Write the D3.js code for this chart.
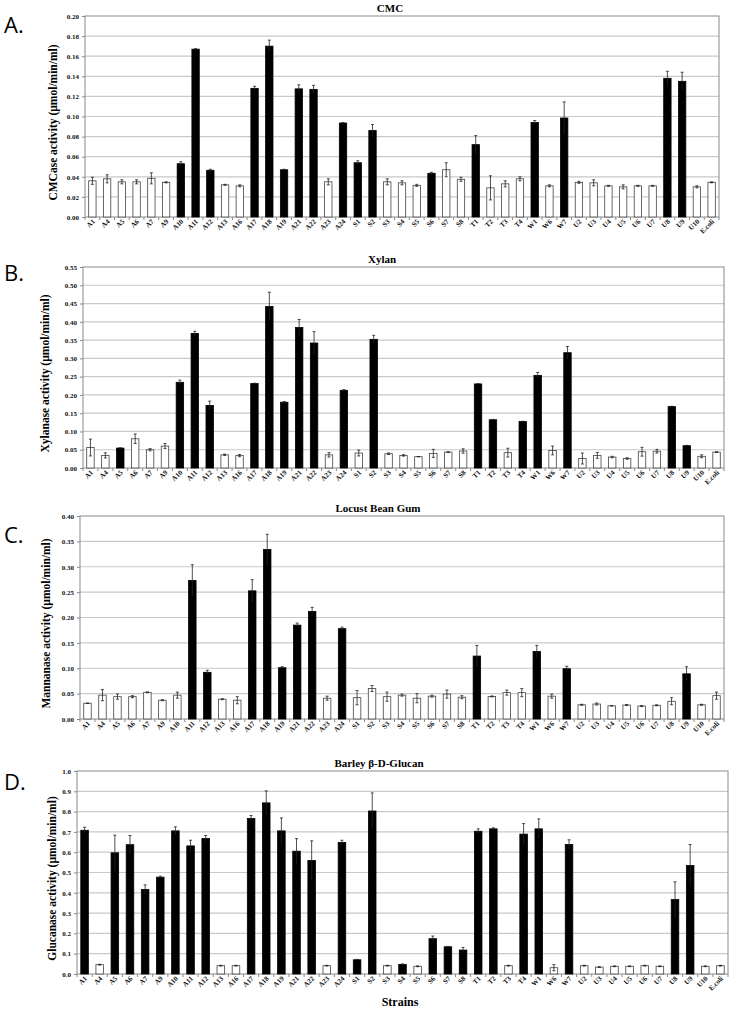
<!DOCTYPE html>
<meta charset="utf-8">
<style>
body { margin: 0; background: #fff; }
text { font-family: "Liberation Serif", "Times New Roman", serif; font-weight: bold; }
.letter { font-family: "Open Sans", "DejaVu Sans", sans-serif; font-weight: normal; font-size: 22px; }
.domain { display: none; }
</style>
<body>
<script src="https://d3js.org/d3.v7.min.js"></script>
<script>
var strains = ["A1","A4","A5","A6","A7","A9","A10","A11","A12","A13","A16","A17","A18","A19","A21","A22","A23","A24","S1",
  "S2","S3","S4","S5","S6","S7","S8","T1","T2","T3","T4","W1","W6","W7","U2","U3","U4","U5","U6","U7","U8","U9","U10","E.coli"];

// CMC
var cmcMean = [0.036,0.038,0.035,0.035,0.0385,0.0345,0.053,0.167,0.0465,0.032,0.031,0.128,0.170,0.047,0.1275,0.127,0.035,0.0935,0.054,
  0.086,0.035,0.034,0.0315,0.0435,0.047,0.0375,0.072,0.029,0.033,0.038,0.094,0.031,0.0985,0.0345,0.034,0.031,0.030,0.031,0.031,0.138,0.135,0.030,0.0345];
var cmcErr = [0.0035,0.004,0.002,0.002,0.0055,0.0005,0.002,0.0005,0.001,0.0005,0.001,0.002,0.006,0.0005,0.004,0.004,0.003,0.0005,0.002,
  0.006,0.003,0.002,0.001,0.001,0.007,0.002,0.009,0.012,0.003,0.002,0.002,0.001,0.016,0.001,0.003,0.0005,0.002,0.0005,0.0005,0.007,0.009,0.001,0.0005];
var cmcBlack = ["A10","A11","A12","A17","A18","A19","A21","A22","A24","S1","S2","S6","T1","W1","W7","U8","U9"];

// Xylan
var xylMean = [0.056,0.0345,0.0545,0.080,0.050,0.060,0.2345,0.368,0.171,0.036,0.034,0.231,0.442,0.180,0.3845,0.342,0.036,0.2125,0.041,
  0.352,0.039,0.0345,0.031,0.040,0.0435,0.0465,0.230,0.132,0.042,0.127,0.2535,0.048,0.3155,0.026,0.0345,0.030,0.026,0.0445,0.046,0.168,0.061,0.032,0.0435];
var xylErr = [0.023,0.007,0.001,0.013,0.003,0.007,0.006,0.006,0.012,0.002,0.003,0.001,0.039,0.002,0.022,0.031,0.006,0.002,0.008,
  0.011,0.002,0.002,0.0005,0.011,0.001,0.006,0.001,0.001,0.012,0.001,0.008,0.012,0.017,0.015,0.008,0.002,0.002,0.012,0.005,0.001,0.001,0.004,0.001];
var xylBlack = ["A5","A10","A11","A12","A17","A18","A19","A21","A22","A24","S2","T1","T2","T4","W1","W7","U8","U9"];

// Locust Bean Gum
var lbgMean = [0.031,0.047,0.044,0.044,0.0525,0.037,0.047,0.273,0.092,0.039,0.037,0.2525,0.334,0.101,0.185,0.212,0.041,0.178,0.042,
  0.060,0.044,0.047,0.041,0.045,0.049,0.043,0.124,0.0445,0.052,0.052,0.133,0.045,0.099,0.028,0.0295,0.026,0.0275,0.0255,0.027,0.035,0.089,0.028,0.046];
var lbgErr = [0.0005,0.011,0.005,0.002,0.001,0.001,0.006,0.031,0.004,0.001,0.007,0.022,0.030,0.002,0.004,0.008,0.004,0.003,0.014,
  0.006,0.009,0.002,0.009,0.002,0.008,0.003,0.021,0.001,0.005,0.008,0.012,0.004,0.005,0.001,0.002,0.0005,0.001,0.001,0.001,0.007,0.014,0.001,0.007];
var lbgBlack = ["A11","A12","A17","A18","A19","A21","A22","A24","T1","W1","W7","U9"];

// Barley beta-D-Glucan
var glcMean = [0.708,0.046,0.597,0.637,0.416,0.477,0.705,0.631,0.667,0.041,0.041,0.766,0.843,0.705,0.605,0.559,0.041,0.648,0.070,
  0.803,0.041,0.0475,0.038,0.174,0.134,0.118,0.703,0.715,0.041,0.689,0.715,0.031,0.638,0.041,0.034,0.038,0.038,0.041,0.038,0.367,0.534,0.038,0.041];
var glcErr = [0.015,0.002,0.087,0.045,0.023,0.005,0.02,0.028,0.015,0.002,0.002,0.015,0.059,0.064,0.062,0.097,0.002,0.011,0.002,
  0.089,0.002,0.002,0.002,0.013,0.002,0.013,0.012,0.005,0.002,0.052,0.049,0.015,0.023,0.002,0.002,0.002,0.002,0.002,0.002,0.087,0.104,0.002,0.002];
var glcBlack = ["A1","A5","A6","A7","A9","A10","A11","A12","A17","A18","A19","A21","A22","A24","S1","S2","S4","S6","S7","S8",
  "T1","T2","T4","W1","W7","U8","U9"];

var panels = [
  {letter: "A.", title: "CMC", ylabel: "CMCase activity (\u00b5mol/min/ml)", mean: cmcMean, err: cmcErr, black: cmcBlack,
   max: 0.20, step: 0.02, fmt: ".2f", left: 85, right: 719, top: 16, bottom: 217, titleX: 390, letterY: 33, labX: 53},
  {letter: "B.", title: "Xylan", ylabel: "Xylanase activity (\u00b5mol/min/ml)", mean: xylMean, err: xylErr, black: xylBlack,
   max: 0.55, step: 0.05, fmt: ".2f", left: 83, right: 724, top: 267, bottom: 468, titleX: 382, letterY: 281, labX: 45},
  {letter: "C.", title: "Locust Bean Gum", ylabel: "Mannanase activity (\u00b5mol/min/ml)", mean: lbgMean, err: lbgErr, black: lbgBlack,
   max: 0.40, step: 0.05, fmt: ".2f", left: 80, right: 724, top: 516, bottom: 719, titleX: 378, letterY: 543, labX: 46},
  {letter: "D.", title: "Barley \u03b2-D-Glucan", ylabel: "Glucanase activity (\u00b5mol/min/ml)", mean: glcMean, err: glcErr, black: glcBlack,
   max: 1.0, step: 0.1, fmt: ".1f", left: 77, right: 728, top: 771, bottom: 974, titleX: 379, letterY: 790, labX: 52}
];

var svg = d3.select("body").append("svg")
    .attr("width", 730)
    .attr("height", 1011);

panels.forEach(function(p) {
  var g = svg.append("g");

  var x = d3.scaleBand()
      .domain(strains)
      .range([p.left, p.right])
      .paddingInner(0.5)
      .paddingOuter(0.25);

  var y = d3.scaleLinear()
      .domain([0, p.max])
      .range([p.bottom, p.top]);

  var ticks = d3.range(0, Math.round(p.max / p.step) + 1).map(function(i) { return +(i * p.step).toFixed(3); });

  // gridlines
  g.selectAll(".grid")
      .data(ticks.slice(1, -1))
    .enter().append("line")
      .attr("x1", p.left).attr("x2", p.right)
      .attr("y1", function(d) { return y(d); })
      .attr("y2", function(d) { return y(d); })
      .attr("stroke", "#c9c9c9")
      .attr("stroke-width", 1.2);

  // frame
  g.append("rect")
      .attr("x", p.left).attr("y", p.top)
      .attr("width", p.right - p.left).attr("height", p.bottom - p.top)
      .attr("fill", "none")
      .attr("stroke", "#8a8a8a")
      .attr("stroke-width", 1);

  // bars
  var rows = strains.map(function(s, i) {
    return {name: s, v: p.mean[i], e: p.err[i], black: p.black.indexOf(s) >= 0};
  });

  g.selectAll(".bar")
      .data(rows)
    .enter().append("rect")
      .attr("x", function(d) { return x(d.name); })
      .attr("y", function(d) { return y(d.v); })
      .attr("width", x.bandwidth())
      .attr("height", function(d) { return y(0) - y(d.v); })
      .attr("fill", function(d) { return d.black ? "#000" : "#fff"; })
      .attr("stroke", function(d) { return d.black ? "#000" : "#444"; })
      .attr("stroke-width", 0.8);

  // error bars
  var eb = g.selectAll(".err")
      .data(rows)
    .enter().append("g")
      .attr("stroke", "#222")
      .attr("stroke-width", 0.8);
  eb.append("line")
      .attr("x1", function(d) { return x(d.name) + x.bandwidth() / 2; })
      .attr("x2", function(d) { return x(d.name) + x.bandwidth() / 2; })
      .attr("y1", function(d) { return y(Math.max(0, d.v - d.e)); })
      .attr("y2", function(d) { return y(d.v + d.e); });
  eb.append("line")
      .attr("x1", function(d) { return x(d.name) + x.bandwidth() / 2 - 1.5; })
      .attr("x2", function(d) { return x(d.name) + x.bandwidth() / 2 + 1.5; })
      .attr("y1", function(d) { return y(d.v + d.e); })
      .attr("y2", function(d) { return y(d.v + d.e); });
  eb.filter(function(d) { return !d.black; }).append("line")
      .attr("x1", function(d) { return x(d.name) + x.bandwidth() / 2 - 1.5; })
      .attr("x2", function(d) { return x(d.name) + x.bandwidth() / 2 + 1.5; })
      .attr("y1", function(d) { return y(Math.max(0, d.v - d.e)); })
      .attr("y2", function(d) { return y(Math.max(0, d.v - d.e)); });

  // x boundary ticks
  var stepW = x.step();
  g.selectAll(".xt")
      .data(d3.range(0, strains.length + 1))
    .enter().append("line")
      .attr("x1", function(i) { return p.left + i * (p.right - p.left) / strains.length; })
      .attr("x2", function(i) { return p.left + i * (p.right - p.left) / strains.length; })
      .attr("y1", p.bottom).attr("y2", p.bottom + 3)
      .attr("stroke", "#8a8a8a");

  // x labels
  var xa = g.append("g")
      .attr("transform", "translate(0," + p.bottom + ")")
      .call(d3.axisBottom(x).tickSize(0).tickPadding(0));
  xa.selectAll("text")
      .attr("font-size", 7)
      .attr("fill", "#111")
      .attr("dy", 0)
      .attr("text-anchor", "end")
      .attr("transform", "translate(3,5) rotate(-45)");

  // y axis
  var ya = g.append("g")
      .attr("transform", "translate(" + p.left + ",0)")
      .call(d3.axisLeft(y).tickValues(ticks).tickSize(3).tickFormat(d3.format(p.fmt)));
  ya.selectAll("line").attr("stroke", "#8a8a8a");
  ya.selectAll("text").attr("font-size", 7).attr("fill", "#111");

  // y label
  g.append("text")
      .attr("transform", "translate(" + p.labX + "," + ((p.top + p.bottom) / 2 + 6) + ") rotate(-90)")
      .attr("text-anchor", "middle")
      .attr("dy", "0.35em")
      .attr("font-size", 11.5)
      .text(p.ylabel);

  // title
  g.append("text")
      .attr("x", p.titleX)
      .attr("y", p.top - 4)
      .attr("text-anchor", "middle")
      .attr("font-size", 11)
      .text(p.title);

  // panel letter
  g.append("text")
      .attr("class", "letter")
      .attr("x", 4)
      .attr("y", p.letterY)
      .text(p.letter);
});

svg.append("text")
    .attr("x", 400)
    .attr("y", 1006)
    .attr("text-anchor", "middle")
    .attr("font-size", 12)
    .text("Strains");
</script>
